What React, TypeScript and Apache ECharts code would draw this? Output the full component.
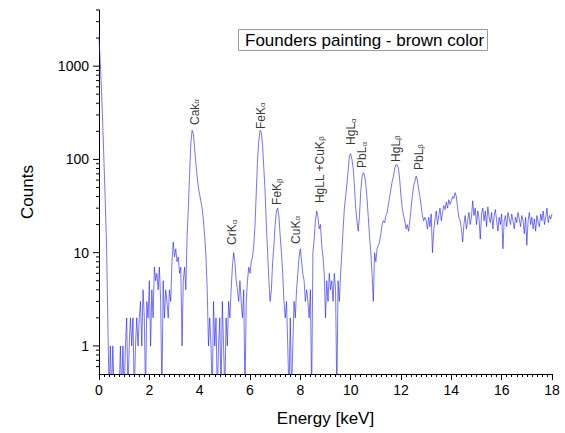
import { useEffect, useRef } from 'react';
import * as echarts from 'echarts';

const FONT = '"Liberation Sans", Arial, sans-serif';

// spectrum: counts per 0.05 keV bin, starting at 0 keV
const ENERGY_START = 0;
const ENERGY_STEP = 0.05;
const counts: number[] = [
  // 0.00 - 0.95
  2000, 1100, 550, 230, 90, 35, 12, 2, 0, 1, 0, 1, 0, 0, 0, 0, 0, 1, 0, 1,
  // 1.00 - 1.95
  0, 1, 2, 0, 1, 2, 1, 2, 0, 1, 2, 1, 2, 3, 1, 4, 2, 0, 3, 2,
  // 2.00 - 2.95
  5, 1, 4, 2, 7, 5, 6, 4, 7, 3, 0, 5, 2, 4, 3, 2, 4, 3, 8, 13,
  // 3.00 - 3.95
  9, 11, 8, 9, 6, 7, 1, 5, 7, 4, 15, 30, 70, 150, 205, 190, 130, 90, 65, 50,
  // 4.00 - 4.95
  42, 35, 30, 22, 15, 9, 4, 1, 2, 1, 0, 3, 1, 2, 0, 1, 2, 0, 3, 1,
  // 5.00 - 5.95
  0, 2, 1, 3, 2, 4, 7, 10, 8, 5, 4, 3, 5, 3, 2, 4, 0, 3, 5, 7,
  // 6.00 - 6.95
  6, 8, 9, 12, 20, 45, 100, 160, 205, 195, 140, 80, 45, 20, 10, 5, 3, 4, 8, 12,
  // 7.00 - 7.95
  20, 28, 30, 24, 15, 10, 6, 3, 2, 3, 1, 0, 2, 0, 1, 3, 2, 4, 6, 9,
  // 8.00 - 8.95
  11, 8, 6, 5, 3, 4, 3, 2, 4, 0, 10, 14, 22, 28, 24, 18, 20, 12, 9, 6,
  // 9.00 - 9.95
  2, 5, 3, 6, 4, 5, 3, 6, 4, 0, 5, 3, 6, 10, 18, 30, 40, 55, 75, 110,
  // 10.00 - 10.95
  115, 100, 80, 52, 30, 22, 17, 25, 45, 65, 72, 68, 55, 38, 24, 15, 10, 6, 3, 10,
  // 11.00 - 11.95
  8, 11, 12, 13, 16, 20, 22, 21, 25, 27, 33, 40, 48, 58, 66, 80, 88, 87, 80, 60,
  // 12.00 - 12.95
  40, 30, 25, 22, 18, 20, 17, 22, 30, 40, 52, 58, 66, 60, 48, 40, 32, 25, 22, 24,
  // 13.00 - 13.95
  22, 18, 24, 19, 26, 10, 17, 23, 28, 20, 25, 30, 22, 27, 32, 29, 35, 30, 37, 33,
  // 14.00 - 14.95
  36, 40, 38, 44, 40, 30, 24, 22, 18, 13, 20, 25, 18, 22, 27, 20, 24, 36, 25, 30,
  // 15.00 - 15.95
  20, 28, 23, 14, 26, 30, 22, 28, 19, 31, 24, 21, 27, 18, 25, 29, 22, 17, 24, 20,
  // 16.00 - 16.95
  26, 11, 22, 25, 19, 27, 23, 20, 26, 22, 18, 24, 21, 27, 23, 19, 25, 22, 16, 24,
  // 17.00 - 17.95
  12, 22, 27, 20, 24, 18, 23, 17, 25, 21, 19, 26, 22, 28, 20, 24, 30, 21, 25, 23,
  // 18.00
  26,
];

// peak annotations (label anchor in data coordinates)
const peakNames = ['Cak', 'CrK', 'FeK', 'FeK', 'CuK', 'HgLL +CuK', 'HgL', 'PbL', 'HgL', 'PbL'];
const peakSubs = ['α', 'α', 'α', 'β', 'α', 'β', 'α', 'α', 'β', 'β'];
const peakEnergies = [3.8, 5.3, 6.42, 7.08, 7.82, 8.78, 10.02, 10.47, 11.8, 12.7];
const peakLabelCounts = [234, 12.1, 212, 32.5, 12.4, 34, 143, 81, 94, 77];

const yMajorTicks = [1, 10, 100, 1000];
const yMinorTicks = [
  0.6, 0.7, 0.8, 0.9,
  2, 3, 4, 5, 6, 7, 8, 9,
  20, 30, 40, 50, 60, 70, 80, 90,
  200, 300, 400, 500, 600, 700, 800, 900,
  2000, 3000, 4000,
];

const TITLE = 'Founders painting - brown color';

export default function App() {
  const ref = useRef<HTMLDivElement>(null);
  useEffect(() => {
    if (!ref.current) return;
    const chart = echarts.init(ref.current, undefined, { renderer: 'svg' });

    const spectrum = counts.map((c, i) => [
      +(ENERGY_START + i * ENERGY_STEP).toFixed(2),
      c === 0 ? 0.3 : c,
    ]);
    const tickData = [
      ...yMajorTicks.map((v) => [0, v, 6]),
      ...yMinorTicks.map((v) => [0, v, 3]),
    ];
    const labelData = peakEnergies.map((e, i) => ({
      value: [e, peakLabelCounts[i]],
      name: peakNames[i],
      sub: peakSubs[i],
    }));

    chart.setOption({
      animation: false,
      title: {
        text: TITLE,
        left: 238,
        top: 29,
        padding: [1, 4, 1, 7],
        borderWidth: 1,
        borderColor: '#9a9a9a',
        textStyle: {
          fontFamily: FONT,
          fontSize: 17,
          fontWeight: 'normal',
          color: '#000',
          lineHeight: 20,
        },
      },
      grid: { left: 99, right: 13, top: 10, bottom: 59, containLabel: false },
      xAxis: {
        type: 'value',
        min: 0,
        max: 18,
        interval: 2,
        name: 'Energy [keV]',
        nameLocation: 'middle',
        nameGap: 36,
        nameTextStyle: { fontFamily: FONT, fontSize: 17, color: '#000' },
        axisLine: { show: true, lineStyle: { color: '#000', width: 1 } },
        axisTick: { show: true, length: 6, lineStyle: { color: '#000' } },
        minorTick: { show: true, splitNumber: 10, length: 3, lineStyle: { color: '#000' } },
        splitLine: { show: false },
        minorSplitLine: { show: false },
        axisLabel: { fontFamily: FONT, fontSize: 14, color: '#000', margin: 9 },
      },
      yAxis: {
        type: 'log',
        logBase: 10,
        min: 0.5,
        max: 4000,
        name: 'Counts',
        nameLocation: 'middle',
        nameRotate: 90,
        nameGap: 63,
        nameTextStyle: { fontFamily: FONT, fontSize: 17, color: '#000' },
        axisLine: { show: true, lineStyle: { color: '#000', width: 1 } },
        axisTick: { show: false },
        splitLine: { show: false },
        axisLabel: {
          fontFamily: FONT,
          fontSize: 14,
          color: '#000',
          margin: 10,
          formatter: (v: number) => {
            const l = Math.log10(v);
            return Math.abs(l - Math.round(l)) < 1e-6 ? String(Math.round(v)) : '';
          },
        },
      },
      series: [
        {
          type: 'line',
          data: spectrum,
          showSymbol: false,
          symbol: 'none',
          clip: true,
          lineStyle: { color: 'rgba(30,30,255,0.62)', width: 1 },
          z: 2,
        },
        {
          type: 'custom',
          data: tickData,
          clip: false,
          silent: true,
          renderItem: (_params: any, api: any) => {
            const p = api.coord([api.value(0), api.value(1)]);
            const len = api.value(2);
            return {
              type: 'line',
              shape: { x1: p[0] - len, y1: p[1], x2: p[0], y2: p[1] },
              style: { stroke: '#000', lineWidth: 1 },
            };
          },
          z: 5,
        },
        {
          type: 'scatter',
          data: labelData,
          symbolSize: 0,
          silent: true,
          label: {
            show: true,
            position: [0, 0],
            rotate: 90,
            align: 'left',
            verticalAlign: 'middle',
            formatter: (p: any) => `{m|${p.data.name}}{s|${p.data.sub}}`,
            rich: {
              m: { fontFamily: FONT, fontSize: 12, color: '#000', lineHeight: 12, verticalAlign: 'top' },
              s: {
                fontFamily: FONT,
                fontSize: 8,
                color: '#000',
                lineHeight: 8,
                verticalAlign: 'bottom',
                padding: [6, 0, 0, 0],
              },
            },
          },
          z: 4,
        },
      ],
    });
    return () => chart.dispose();
  }, []);
  return (
    <div
      ref={ref}
      style={{ position: 'fixed', left: 0, top: 0, width: 565, height: 433, background: '#fff' }}
    />
  );
}
